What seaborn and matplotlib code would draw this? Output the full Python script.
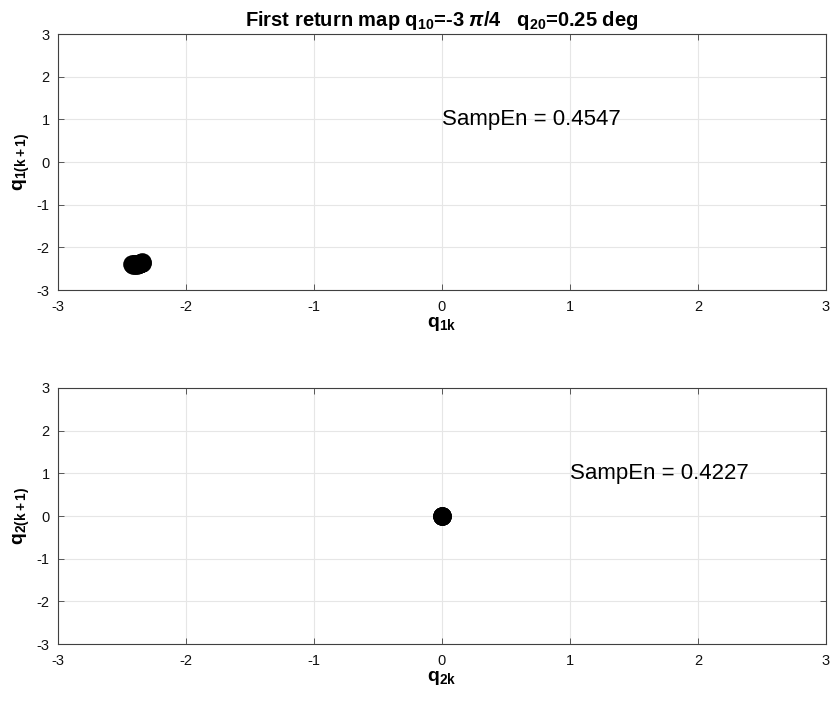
import matplotlib
matplotlib.use("Agg")
import matplotlib.pyplot as plt
import seaborn as sns
import pandas as pd

# Return-map samples for joint 1 (q1k vs q1(k+1))
q1_k = [-2.42, -2.415, -2.41, -2.40, -2.395, -2.39, -2.38, -2.375, -2.37, -2.36,
        -2.355, -2.35, -2.345, -2.34, -2.40, -2.37, -2.35, -2.385, -2.365]
q1_k1 = [-2.40, -2.41, -2.40, -2.41, -2.39, -2.40, -2.39, -2.38, -2.38, -2.37,
         -2.37, -2.36, -2.36, -2.35, -2.38, -2.39, -2.37, -2.41, -2.40]

# Return-map samples for joint 2 (q2k vs q2(k+1))
q2_k = [0.0, 0.001, -0.001]
q2_k1 = [0.0, 0.001, -0.001]

sampen = [0.4547, 0.4227]
ticks = [-3, -2, -1, 0, 1, 2, 3]

sns.set_theme(style="whitegrid")
plt.rcParams["font.family"] = ["Liberation Sans", "DejaVu Sans"]
plt.rcParams["axes.unicode_minus"] = False
plt.rcParams["mathtext.fontset"] = "custom"
plt.rcParams["mathtext.rm"] = "Liberation Sans:bold"
plt.rcParams["mathtext.bf"] = "Liberation Sans:bold"
plt.rcParams["mathtext.it"] = "Liberation Sans:bold:italic"

fig = plt.figure(figsize=(8.34, 7.08), dpi=100)
ax1 = fig.add_axes([58 / 834, 1 - 290 / 708, 768 / 834, 256 / 708])
ax2 = fig.add_axes([58 / 834, 1 - 644 / 708, 768 / 834, 256 / 708])

df1 = pd.DataFrame({"x": q1_k, "y": q1_k1})
df2 = pd.DataFrame({"x": q2_k, "y": q2_k1})

panels = [
    (ax1, df1, r"$\mathbf{q_{1k}}$", r"$\mathbf{q_{1(k+1)}}$", 0, sampen[0]),
    (ax2, df2, r"$\mathbf{q_{2k}}$", r"$\mathbf{q_{2(k+1)}}$", 1, sampen[1]),
]

for ax, df, xl, yl, tx, se in panels:
    sns.scatterplot(data=df, x="x", y="y", ax=ax, s=180, color="black",
                    edgecolor="black", linewidth=0, zorder=3)
    ax.set_xlim(-3, 3)
    ax.set_ylim(-3, 3)
    ax.set_xticks(ticks)
    ax.set_yticks(ticks)
    ax.grid(True, color="#e6e6e6", linewidth=0.8)
    for sp in ax.spines.values():
        sp.set_visible(True)
        sp.set_color("#404040")
        sp.set_linewidth(0.8)
    ax.tick_params(direction="in", length=4, width=0.6, colors="#404040",
                   labelsize=10.5, labelcolor="#111111", top=True, right=True,
                   bottom=True, left=True, labeltop=False, labelright=False)
    ax.tick_params(axis="x", pad=7)
    ax.tick_params(axis="y", pad=6)
    ax.set_xlabel(xl, fontsize=14, labelpad=1, color="black")
    ax.set_ylabel(yl, fontsize=14, labelpad=3, color="black")
    ax.text(tx, 1.0, f"SampEn = {se:.4f}", fontsize=16, ha="left", va="center",
            color="black")

ax1.set_title(r"First return map q$_{10}$=-3 $\pi$/4   q$_{20}$=0.25 deg",
              fontsize=14.5, fontweight="bold", pad=6, color="black")

fig.savefig("out.png", dpi=100)
